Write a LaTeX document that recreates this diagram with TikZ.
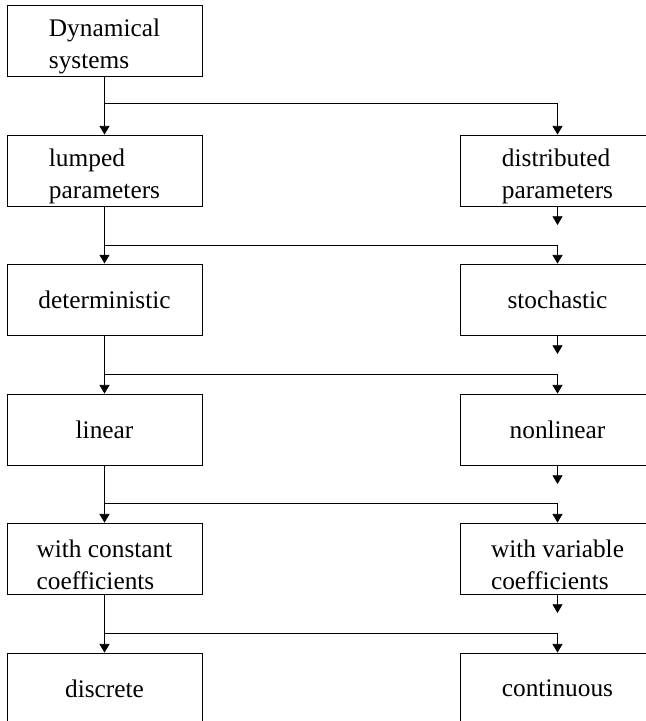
\documentclass[tikz,border=0pt]{standalone}
\usepackage{fontspec}
\setmainfont{Liberation Serif}
\usetikzlibrary{arrows.meta}
\newcommand{\tstrut}{\rule{0pt}{22pt}}

\begin{document}
\begin{tikzpicture}[x=0.75pt,y=0.75pt]
\tikzstyle{box} = [draw, line width=0.6pt, minimum width=146.25pt, minimum height=53.25pt, inner sep=0pt, align=left, font=\fontsize{19}{24}\selectfont]
\tikzstyle{arr} = [line width=0.6pt, -{Triangle[length=6.5pt,width=7.5pt]}]
%
	\clip (0,0) rectangle (646,-721);

	\node[box] (dyn) at (104.5,-41) {\tstrut Dynamical\\systems};

	\node[box] (lump) at (104.5,-170.5) {\tstrut lumped\\parameters};
	\node[box] (dist) at (557.5,-170.5) {\tstrut distributed\\parameters};

	\node[box, line width=0.75pt] (det) at (104.5,-299.5) {deterministic};
	\node[box] (stoch) at (557.5,-299.5) {stochastic};

	\node[box] (lin) at (104.5,-429.5) {linear};
	\node[box] (nonlin) at (557.5,-429.5) {nonlinear};

	\node[box] (const) at (104.5,-558.5) {\tstrut with constant\\coefficients};
	\node[box] (var) at (557.5,-558.5) {\tstrut with variable\\coefficients};

	\node[box] (disc) at (104.5,-688.5) {discrete};
	\node[box] (cont) at (557.5,-688.5) {continuous};
%
	\coordinate (b1) at (104.5,-103);
	\coordinate (b2) at (104.5,-245);
	\coordinate (b3) at (104.5,-374);
	\coordinate (b4) at (104.5,-503);
	\coordinate (b5) at (104.5,-633);

	\draw[arr] (dyn.south) -- (lump.north);
	\draw[arr] (b1) -| (dist.north);
	\draw[arr] (lump.south) -- (det.north);
	\draw[arr] (b2) -| (stoch.north);
	\draw[arr] (det.south) -- (lin.north);
	\draw[arr] (b3) -| (nonlin.north);
	\draw[arr] (lin.south) -- (const.north);
	\draw[arr] (b4) -| (var.north);
	\draw[arr] (const.south) -- (disc.north);
	\draw[arr] (b5) -| (cont.north);
%
	\coordinate (e1) at (557.5,-225);
	\coordinate (e2) at (557.5,-354);
	\coordinate (e3) at (557.5,-484);
	\coordinate (e4) at (557.5,-613);

	\draw[arr] (dist.south) -- (e1);
	\draw[arr] (stoch.south) -- (e2);
	\draw[arr] (nonlin.south) -- (e3);
	\draw[arr] (var.south) -- (e4);
\end{tikzpicture}
\end{document}
